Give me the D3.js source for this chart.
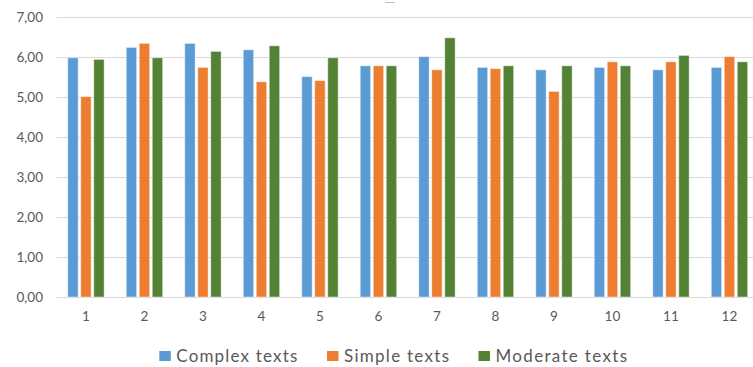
<!DOCTYPE html>
<html>
<head>
<meta charset="utf-8">
<script src="https://cdn.jsdelivr.net/npm/d3@7/dist/d3.min.js"></script>
<style>
  html, body { margin: 0; padding: 0; background: #fff; }
  svg { display: block; }
  text { font-family: Lato, "Open Sans", sans-serif; fill: #595959; }
</style>
</head>
<body>
<svg id="chart" width="753" height="367"></svg>
<script>
// Categories along the x axis
const categories = ["1", "2", "3", "4", "5", "6", "7", "8", "9", "10", "11", "12"];

// Series names and their values, one per category
const seriesNames = ["Complex texts", "Simple texts", "Moderate texts"];
const complexTexts  = [5.98, 6.24, 6.34, 6.18, 5.51, 5.78, 6.01, 5.74, 5.68, 5.74, 5.68, 5.74];
const simpleTexts   = [5.01, 6.34, 5.74, 5.38, 5.41, 5.78, 5.68, 5.71, 5.14, 5.88, 5.88, 6.01];
const moderateTexts = [5.94, 5.98, 6.14, 6.28, 5.98, 5.78, 6.48, 5.78, 5.78, 5.78, 6.04, 5.88];
const seriesColors  = ["#5B9BD5", "#ED7D31", "#548235"];

// Y axis ticks
const yTicks = [0, 1, 2, 3, 4, 5, 6, 7];
const yTickLabels = ["0,00", "1,00", "2,00", "3,00", "4,00", "5,00", "6,00", "7,00"];

const seriesValues = [complexTexts, simpleTexts, moderateTexts];
const rows = categories.map((c, i) => ({
  cat: c,
  vals: seriesNames.map((s, j) => ({ series: s, value: seriesValues[j][i], color: seriesColors[j] }))
}));

const svg = d3.select("#chart");

const plot = { left: 56.7, right: 758.7, top: 17, bottom: 297 };

const x = d3.scaleBand().domain(categories).range([plot.left, plot.right]).padding(0);
const xInner = d3.scaleBand().domain(seriesNames).range([-18.2, 18.2]).paddingInner(0.2);
const y = d3.scaleLinear().domain([0, 7]).range([plot.bottom, plot.top]);

// Horizontal gridlines
svg.append("g")
  .selectAll("line")
  .data(yTicks)
  .join("line")
  .attr("x1", plot.left)
  .attr("x2", 753)
  .attr("y1", d => Math.round(y(d)) + 0.5)
  .attr("y2", d => Math.round(y(d)) + 0.5)
  .attr("stroke", "#D9D9D9")
  .attr("stroke-width", 1);

// Y axis labels
const yAxis = d3.axisLeft(y)
  .tickValues(yTicks)
  .tickFormat((d, i) => yTickLabels[i])
  .tickSize(0)
  .tickPadding(0);
const yg = svg.append("g").attr("transform", `translate(43,0)`).call(yAxis);
yg.select(".domain").remove();
yg.selectAll("text").style("font-size", "13.5px").attr("fill", "#595959").attr("dy", "0.35em");

// Bars
const groups = svg.append("g")
  .selectAll("g")
  .data(rows)
  .join("g")
  .attr("transform", d => `translate(${x(d.cat) + x.bandwidth() / 2},0)`);

groups.selectAll("rect")
  .data(d => d.vals)
  .join("rect")
  .attr("x", d => xInner(d.series))
  .attr("width", xInner.bandwidth())
  .attr("y", d => y(d.value))
  .attr("height", d => y(0) - y(d.value))
  .attr("fill", d => d.color)
  .attr("stroke", "rgba(255,255,255,0.45)")
  .attr("stroke-width", 1);

// X axis labels
const xAxis = d3.axisBottom(x).tickSize(0).tickPadding(0);
const xg = svg.append("g").attr("transform", `translate(0,${plot.bottom})`).call(xAxis);
xg.select(".domain").remove();
xg.selectAll("text").style("font-size", "13.5px").attr("fill", "#595959").attr("y", 19).attr("dy", "0.35em");

// Small title placeholder mark
svg.append("line")
  .attr("x1", 385).attr("x2", 395)
  .attr("y1", 2.5).attr("y2", 2.5)
  .attr("stroke", "#BFBFBF").attr("stroke-width", 1);

// Legend
const legendX = [159.3, 327, 478.5];
const legendTextWidth = [121, 105, 131.5];
const legend = svg.append("g")
  .selectAll("g")
  .data(seriesNames)
  .join("g")
  .attr("transform", (d, i) => `translate(${legendX[i]},356)`);
legend.append("rect")
  .attr("x", 0).attr("y", -5)
  .attr("width", 11.5).attr("height", 10)
  .attr("fill", (d, i) => seriesColors[i]);
legend.append("text")
  .attr("x", 17).attr("y", 0).attr("dy", "0.35em")
  .attr("textLength", (d, i) => legendTextWidth[i])
  .attr("lengthAdjust", "spacing")
  .style("font-size", "17px")
  .text(d => d);
</script>
</body>
</html>
